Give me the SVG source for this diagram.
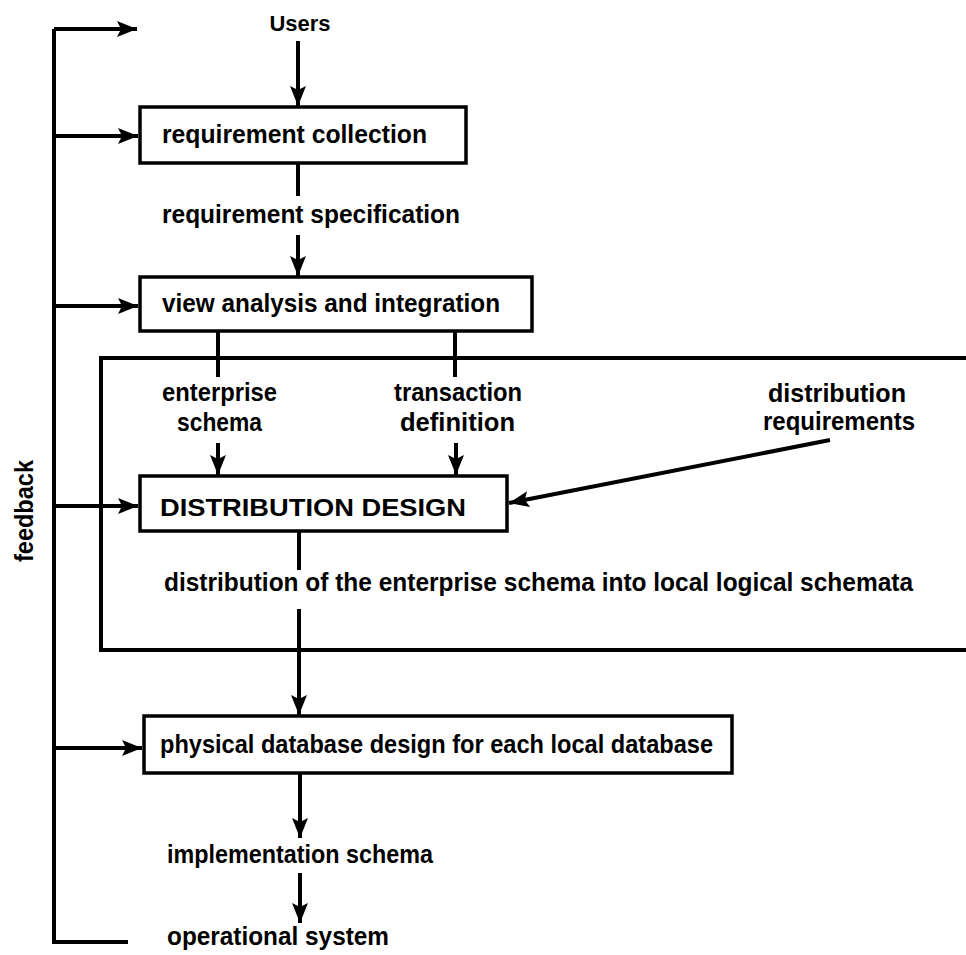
<svg xmlns="http://www.w3.org/2000/svg" width="966" height="955" viewBox="0 0 966 955">
<style>
.t{font-family:"Liberation Sans",Arial,sans-serif;font-weight:bold;font-size:25px;fill:#000}
.c{text-anchor:middle}
.box{fill:#fff;stroke:#000;stroke-width:3.5}
.ln{fill:none;stroke:#000;stroke-width:4}
</style>
<defs>
<marker id="ah" markerUnits="userSpaceOnUse" markerWidth="20" markerHeight="16" viewBox="0 0 20 16" refX="20" refY="8" orient="auto">
<path d="M0,0 L20,8 L0,16 L4,8 Z" fill="#000"/>
</marker>
</defs>
<rect width="966" height="955" fill="#fff"/>
<g id="frame">
<path class="ln" d="M975,358 H101 V650 H975"/>
</g>
<g id="connectors">
<path class="ln" d="M54,29 V942 H128"/>
<path class="ln" d="M54,29 H137" marker-end="url(#ah)"/>
<path class="ln" d="M54,136 H138" marker-end="url(#ah)"/>
<path class="ln" d="M54,306 H138" marker-end="url(#ah)"/>
<path class="ln" d="M54,506 H138" marker-end="url(#ah)"/>
<path class="ln" d="M54,748 H142" marker-end="url(#ah)"/>
<path class="ln" d="M298,41 V106" marker-end="url(#ah)"/>
<path class="ln" d="M298,163 V196"/>
<path class="ln" d="M298,235 V276" marker-end="url(#ah)"/>
<path class="ln" d="M218,331 V377"/>
<path class="ln" d="M455,331 V377"/>
<path class="ln" d="M218,443 V475" marker-end="url(#ah)"/>
<path class="ln" d="M456,443 V475" marker-end="url(#ah)"/>
<path class="ln" d="M830,440 L509,503" marker-end="url(#ah)"/>
<path class="ln" d="M299,531 V570"/>
<path class="ln" d="M299,609 V715" marker-end="url(#ah)"/>
<path class="ln" d="M300,773 V838" marker-end="url(#ah)"/>
<path class="ln" d="M300,873 V923" marker-end="url(#ah)"/>
</g>
<g id="users"><text class="t c" x="300" y="31" style="font-size:22px">Users</text></g>
<g id="req-collection">
<rect class="box" x="140" y="107" width="326" height="56"/>
<text class="t" x="162" y="143" textLength="265" lengthAdjust="spacingAndGlyphs">requirement collection</text>
</g>
<g id="req-spec"><text class="t" x="162" y="223" textLength="298" lengthAdjust="spacingAndGlyphs">requirement specification</text></g>
<g id="view-analysis">
<rect class="box" x="140" y="277" width="392" height="54"/>
<text class="t" x="162" y="312" textLength="338" lengthAdjust="spacingAndGlyphs">view analysis and integration</text>
</g>
<g id="enterprise-schema">
<text class="t" x="162" y="401" textLength="115" lengthAdjust="spacingAndGlyphs">enterprise</text>
<text class="t" x="177" y="431" textLength="85" lengthAdjust="spacingAndGlyphs">schema</text>
</g>
<g id="transaction-definition">
<text class="t" x="394" y="401" textLength="128" lengthAdjust="spacingAndGlyphs">transaction</text>
<text class="t" x="400" y="431" textLength="115" lengthAdjust="spacingAndGlyphs">definition</text>
</g>
<g id="distribution-requirements">
<text class="t" x="768" y="402" textLength="138" lengthAdjust="spacingAndGlyphs">distribution</text>
<text class="t" x="763" y="430" textLength="152" lengthAdjust="spacingAndGlyphs">requirements</text>
</g>
<g id="distribution-design">
<rect class="box" x="140" y="476" width="367" height="55"/>
<text class="t" x="160" y="516" textLength="306" lengthAdjust="spacingAndGlyphs" style="font-size:23px">DISTRIBUTION DESIGN</text>
</g>
<g id="distribution-of"><text class="t" x="164" y="591" textLength="749" lengthAdjust="spacingAndGlyphs">distribution of the enterprise schema into local logical schemata</text></g>
<g id="physical-design">
<rect class="box" x="144" y="716" width="588" height="57"/>
<text class="t" x="160" y="753" textLength="553" lengthAdjust="spacingAndGlyphs">physical database design for each local database</text>
</g>
<g id="implementation-schema"><text class="t" x="167" y="863" textLength="266" lengthAdjust="spacingAndGlyphs">implementation schema</text></g>
<g id="operational-system"><text class="t" x="167" y="945" textLength="222" lengthAdjust="spacingAndGlyphs">operational system</text></g>
<g id="feedback"><text class="t c" transform="translate(33,511) rotate(-90)" textLength="102" lengthAdjust="spacingAndGlyphs">feedback</text></g>
</svg>
